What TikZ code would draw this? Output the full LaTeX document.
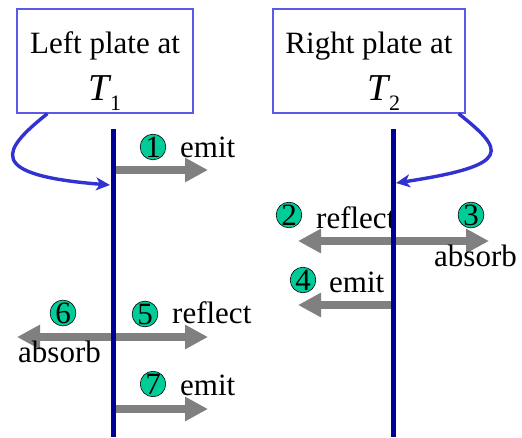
\documentclass[tikz,border=0pt]{standalone}
\usepackage{fontspec}
\setmainfont{Liberation Serif}
\newfontfamily\timesfont{Liberation Serif}
\usetikzlibrary{arrows.meta}
\definecolor{plateblue}{RGB}{0,0,150}
\definecolor{curveblue}{RGB}{50,50,210}
\definecolor{boxblue}{RGB}{90,90,230}
\definecolor{raygray}{RGB}{128,128,128}
\definecolor{dotgreen}{RGB}{0,204,153}
\newcommand{\tempsub}[1]{{\fontsize{38}{47}\selectfont\itshape T}\raisebox{-10pt}{\fontsize{22}{22}\selectfont #1}}

\begin{document}
\begin{tikzpicture}[x=1pt,y=-1pt,
  platebox/.style={draw=boxblue,line width=1.2pt,minimum height=104pt,inner sep=0pt,align=center,font=\timesfont\fontsize{31}{47}\selectfont},
  plateline/.style={plateblue,line width=5pt},
  heatflow/.style={curveblue,line width=3.4pt,-{Stealth[length=14pt,width=13pt,inset=4pt]}},
  ray/.style={raygray,line width=7.5pt,-{Triangle[length=23pt,width=23pt]}},
  rays/.style={raygray,line width=7.5pt,{Triangle[length=23pt,width=23pt]}-{Triangle[length=23pt,width=23pt]}},
  numdot/.style={circle,draw=black,line width=0.6pt,fill=dotgreen,minimum size=25pt,inner sep=0pt,font=\timesfont\fontsize{31}{31}\selectfont},
  lbl/.style={anchor=base west,inner sep=0pt,font=\timesfont\fontsize{31}{31}\selectfont}]
  \useasboundingbox (0,0) rectangle (522,437);
  % plate boxes
  \node[platebox,minimum width=176pt] (leftbox) at (105,61) {\rule{0pt}{41pt}Left plate at\\\tempsub{1}};
  \node[platebox,minimum width=192pt] (rightbox) at (369,61) {\rule{0pt}{41pt}Right plate at\\\hspace*{30pt}\tempsub{2}};
  % plates
  \coordinate (ltop) at (113,129);
  \coordinate (lbot) at (113,437);
  \coordinate (rtop) at (393,129);
  \coordinate (rbot) at (393,437);
  % rays at the left plate
  \coordinate (r1s) at (113,170);
  \coordinate (r1e) at (208,170);
  \coordinate (r5e) at (208,337);
  \coordinate (r6e) at (17,337);
  \coordinate (r7s) at (113,409);
  \coordinate (r7e) at (208,409);
  \draw[ray] (r1s) -- (r1e);
  \draw[rays] (r6e) -- (r5e);
  \draw[ray] (r7s) -- (r7e);
  % rays at the right plate
  \coordinate (r2e) at (298,241);
  \coordinate (r3e) at (489,241);
  \coordinate (r4s) at (393,305);
  \coordinate (r4e) at (298,305);
  \draw[rays] (r2e) -- (r3e);
  \draw[ray] (r4s) -- (r4e);
  % numbers and labels
  \node[numdot] (n1) at (153,147) {\raisebox{-2pt}{1}};
  \node[lbl] (emit1) at (180,157) {emit};
  \node[numdot] (n2) at (289,215) {\raisebox{-2pt}{2}};
  \node[lbl] (refl2) at (316,228) {reflect};
  \node[numdot] (n3) at (471,215) {\raisebox{-2pt}{3}};
  \node[lbl] (abs3) at (434,266) {absorb};
  \node[numdot] (n4) at (303,280) {\raisebox{-2pt}{4}};
  \node[lbl] (emit4) at (329,292) {emit};
  \node[numdot] (n5) at (145,314) {\raisebox{-2pt}{5}};
  \node[lbl] (refl5) at (172,323) {reflect};
  \node[numdot] (n6) at (63,313) {\raisebox{-2pt}{6}};
  \node[lbl] (abs6) at (18,362) {absorb};
  \node[numdot] (n7) at (153,384) {\raisebox{-2pt}{7}};
  \node[lbl] (emit7) at (180,395) {emit};
  % plate lines on top
  \draw[plateline] (ltop) -- (lbot);
  \draw[plateline] (rtop) -- (rbot);
  % box to plate
  \coordinate (lhit) at (110,185);
  \coordinate (rhit) at (396,183);
  \draw[heatflow] (leftbox.south west) ++(31,0) .. controls (2,150) and (-16,175) .. (lhit);
  \draw[heatflow] (rightbox.south east) ++(-7,0) .. controls (504,150) and (515,165) .. (rhit);
\end{tikzpicture}
\end{document}
